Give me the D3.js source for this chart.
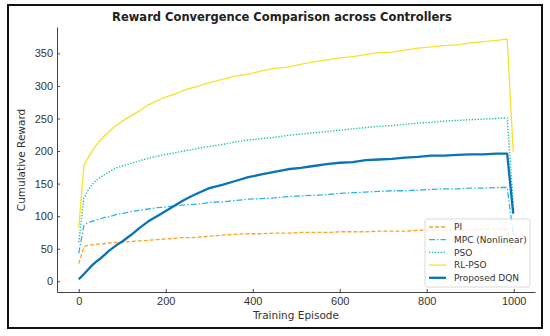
<!DOCTYPE html>
<html>
<head>
<meta charset="utf-8">
<script src="https://cdn.jsdelivr.net/npm/d3@7"></script>
<style>
  body { margin: 0; background: #fff; }
  svg { display: block; font-family: "DejaVu Sans", sans-serif; }
</style>
</head>
<body>
<svg id="chart" width="550" height="336"></svg>
<script>
// Data (episode samples)
var episodes = [0, 12, 20, 30, 40, 50, 60, 70, 80, 90,
  100, 120, 140, 160, 180, 200, 220, 240, 260, 280,
  300, 330, 360, 390, 420, 450, 480, 510, 540, 570,
  600, 630, 660, 690, 720, 750, 780, 810, 840, 870,
  900, 930, 960, 985, 999];

var piValues = [27, 53, 55, 56, 57, 57, 58, 59, 59, 60,
  60, 61, 62, 63, 64, 65, 66, 67, 67, 68,
  69, 71, 72, 73, 73, 74, 74, 75, 75, 75,
  76, 76, 76, 77, 77, 77, 78, 78, 79, 79,
  79, 80, 80, 80, 41];

var mpcValues = [43, 86, 90, 92, 94, 96, 98, 99, 101, 103,
  104, 107, 109, 111, 113, 114, 116, 117, 118, 119,
  121, 122, 124, 126, 127, 128, 130, 131, 132, 133,
  135, 136, 137, 138, 139, 139, 140, 141, 142, 142,
  143, 143, 144, 144, 72];

var psoValues = [60, 128, 138, 148, 155, 160, 164, 168, 172, 175,
  177, 181, 185, 189, 192, 195, 197, 200, 202, 205,
  207, 210, 214, 217, 219, 221, 224, 226, 228, 230,
  232, 234, 236, 238, 239, 241, 243, 244, 246, 247,
  248, 249, 250, 251, 120];

var rlpsoValues = [82, 178, 188, 199, 209, 217, 224, 230, 236, 241,
  246, 254, 262, 271, 277, 283, 287, 293, 297, 301,
  305, 310, 315, 318, 323, 327, 329, 333, 337, 340,
  343, 345, 348, 351, 352, 355, 358, 360, 362, 363,
  366, 368, 370, 372, 199];

var dqnValues = [3, 11, 17, 24, 30, 35, 41, 47, 52, 57,
  61, 71, 82, 92, 100, 108, 116, 124, 131, 137,
  143, 148, 154, 160, 164, 168, 172, 174, 177, 180,
  182, 183, 186, 187, 188, 190, 191, 193, 193, 194,
  195, 195, 196, 196, 104];

var seriesNames = ["PI", "MPC (Nonlinear)", "PSO", "RL-PSO", "Proposed DQN"];
var seriesValues = [piValues, mpcValues, psoValues, rlpsoValues, dqnValues];

var xTicks = [0, 200, 400, 600, 800, 1000];
var yTicks = [0, 50, 100, 150, 200, 250, 300, 350];

// Styles per series
var styles = [
  { color: "#FFA31A", width: 1.3, dash: "4,2" },
  { color: "#2BB3EA", width: 1.3, dash: "6,2,1.5,2" },
  { color: "#12C49A", width: 1.4, dash: "1.3,1.6" },
  { color: "#F7E02A", width: 1.3, dash: null },
  { color: "#0A72B8", width: 2.3, dash: null }
];

var svg = d3.select("#chart");

// outer frame
svg.append("rect")
  .attr("x", 8).attr("y", 5)
  .attr("width", 534).attr("height", 323)
  .attr("fill", "none").attr("stroke", "#111").attr("stroke-width", 2);

var x = d3.scaleLinear().domain([-50, 1049]).range([57, 535]);
var y = d3.scaleLinear().domain([-16.5, 390.5]).range([292, 27]);

// lines
var line = d3.line()
  .x(function (d) { return x(d[0]); })
  .y(function (d) { return y(d[1]); });

seriesValues.forEach(function (vals, i) {
  var pts = episodes.map(function (e, j) { return [e, vals[j]]; });
  var path = svg.append("path")
    .datum(pts)
    .attr("d", line)
    .attr("fill", "none")
    .attr("stroke", styles[i].color)
    .attr("stroke-width", styles[i].width)
    .attr("stroke-linejoin", "round");
  if (styles[i].dash) path.attr("stroke-dasharray", styles[i].dash);
});

// axes
var xAxis = d3.axisBottom(x).tickValues(xTicks).tickFormat(d3.format("d"))
  .tickSizeInner(-3).tickSizeOuter(0).tickPadding(5);
var yAxis = d3.axisLeft(y).tickValues(yTicks).tickFormat(d3.format("d"))
  .tickSizeInner(-3).tickSizeOuter(0).tickPadding(4);

var gx = svg.append("g").attr("transform", "translate(0,292)").call(xAxis);
var gy = svg.append("g").attr("transform", "translate(57,0)").call(yAxis);

[gx, gy].forEach(function (g) {
  g.select(".domain").attr("stroke", "#444").attr("stroke-width", 1);
  g.selectAll(".tick line").attr("stroke", "#444");
  g.selectAll("text").attr("fill", "#333").style("font-size", "11px").attr("font-family", null);
});

// labels
svg.append("text")
  .attr("x", 282).attr("y", 21)
  .attr("text-anchor", "middle")
  .style("font-size", "11.5px").style("font-weight", "bold")
  .attr("fill", "#222")
  .text("Reward Convergence Comparison across Controllers");

svg.append("text")
  .attr("x", 296).attr("y", 319)
  .attr("text-anchor", "middle")
  .style("font-size", "10.5px")
  .attr("fill", "#333")
  .text("Training Episode");

svg.append("text")
  .attr("transform", "translate(25,160) rotate(-90)")
  .attr("text-anchor", "middle")
  .style("font-size", "10.5px")
  .attr("fill", "#333")
  .text("Cumulative Reward");

// legend
var legend = svg.append("g");
legend.append("rect")
  .attr("x", 425).attr("y", 219)
  .attr("width", 105).attr("height", 68)
  .attr("rx", 2)
  .attr("fill", "#fff").attr("fill-opacity", 0.8)
  .attr("stroke", "#d0d0d0").attr("stroke-width", 0.8);

seriesNames.forEach(function (name, i) {
  var cy = 227 + i * 12.7;
  var l = legend.append("line")
    .attr("x1", 429).attr("x2", 446)
    .attr("y1", cy).attr("y2", cy)
    .attr("stroke", styles[i].color)
    .attr("stroke-width", styles[i].width);
  if (styles[i].dash) l.attr("stroke-dasharray", styles[i].dash);
  legend.append("text")
    .attr("x", 454).attr("y", cy)
    .attr("dy", "0.35em")
    .style("font-size", "9px")
    .attr("fill", "#333")
    .text(name);
});
</script>
</body>
</html>
